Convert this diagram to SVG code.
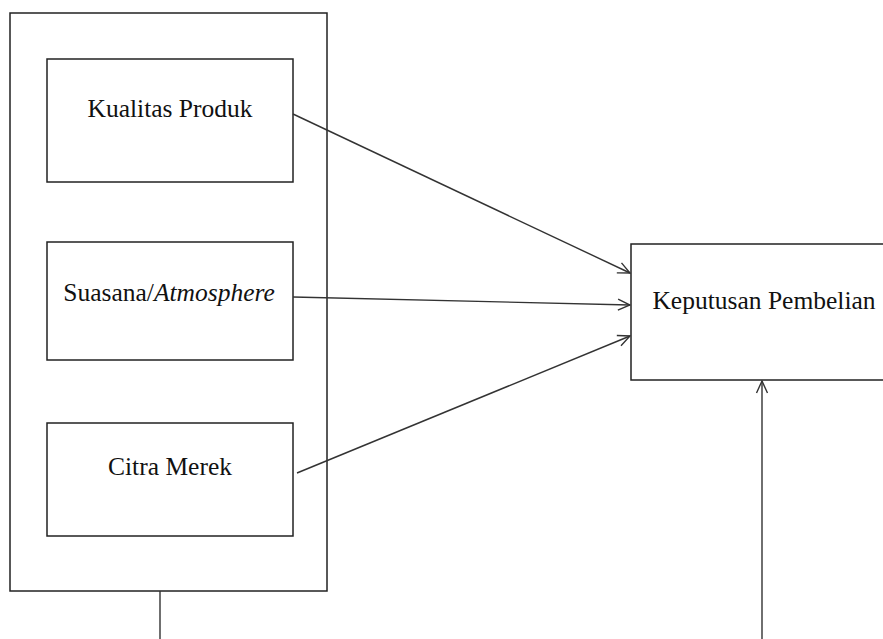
<svg xmlns="http://www.w3.org/2000/svg" width="883" height="639" viewBox="0 0 883 639">
<defs>
<style>
.box{fill:#fff;stroke:#222;stroke-width:1.5}
.lbl{font-family:"Liberation Serif","Times New Roman",serif;font-size:25.5px;fill:#111;text-anchor:middle}
.con{stroke:#333;stroke-width:1.4;fill:none}
</style>
<marker id="arr" viewBox="0 0 14 14" refX="13" refY="7" markerWidth="14" markerHeight="14" markerUnits="userSpaceOnUse" orient="auto">
<path d="M1,1.5 L13,7 L1,12.5" fill="none" stroke="#333" stroke-width="1.4"/>
</marker>
</defs>
<rect width="883" height="639" fill="#fff"/>
<g id="group-outer"><rect class="box" x="10" y="13" width="317" height="578"/></g>
<g id="kualitas"><rect class="box" x="47" y="59" width="246" height="123"/><text class="lbl" x="170" y="117">Kualitas Produk</text></g>
<g id="suasana"><rect class="box" x="47" y="242" width="246" height="118"/><text class="lbl" x="169" y="301">Suasana/<tspan font-style="italic">Atmosphere</tspan></text></g>
<g id="citra"><rect class="box" x="47" y="423" width="246" height="113"/><text class="lbl" x="170" y="475">Citra Merek</text></g>
<g id="keputusan"><rect class="box" x="631" y="244" width="260" height="136"/><text class="lbl" x="764" y="309">Keputusan Pembelian</text></g>
<g id="connectors">
<line class="con" x1="293" y1="114" x2="630" y2="273" marker-end="url(#arr)"/>
<line class="con" x1="293" y1="297" x2="630" y2="305" marker-end="url(#arr)"/>
<line class="con" x1="297" y1="473" x2="630" y2="336" marker-end="url(#arr)"/>
<line class="con" x1="160" y1="591" x2="160" y2="639"/>
<line class="con" x1="762" y1="639" x2="762" y2="381" marker-end="url(#arr)"/>
</g>
</svg>
